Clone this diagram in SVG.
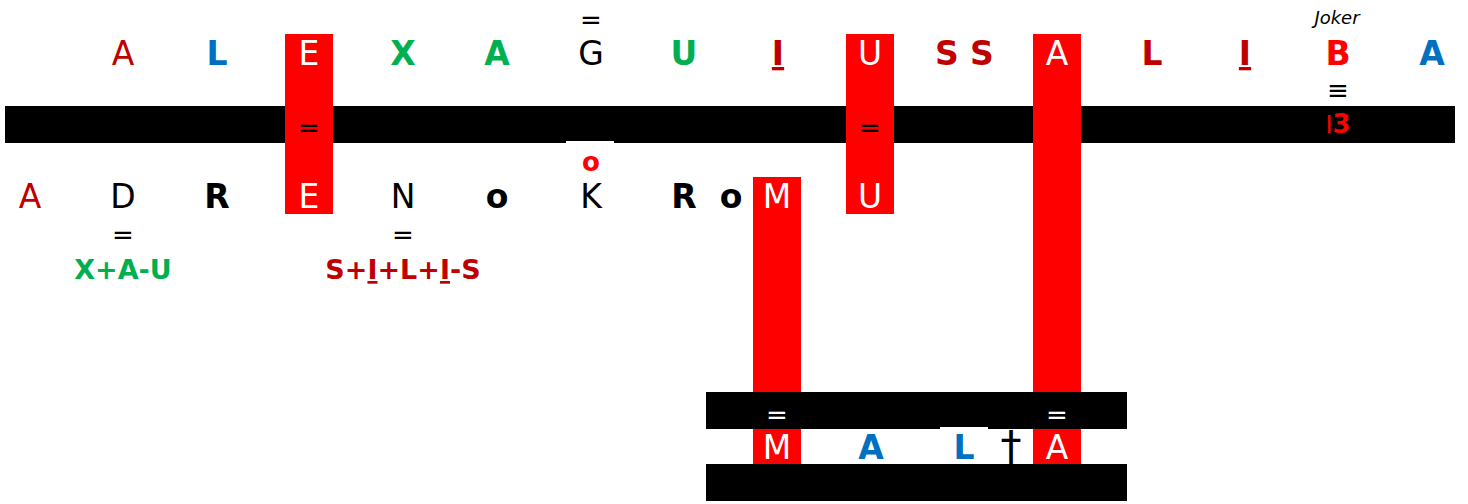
<svg xmlns="http://www.w3.org/2000/svg" width="1468" height="504" viewBox="0 0 1468 504">
<style>
text{font-family:"DejaVu Sans","Verdana",sans-serif;text-anchor:middle}
.L{font-size:33px}
.b{font-weight:bold}
.dr{fill:#C00000}
.bl{fill:#0070C0}
.gr{fill:#00B050}
.rd{fill:#FF0000}
.wh{fill:#FFFFFF}
.bk{fill:#000000}
.eq{font-size:26px}
.u{text-decoration:underline}
.bar{fill:#000000}
.col{fill:#FF0000}
</style>
<rect width="1468" height="504" fill="#FFFFFF"/>
<g id="bars">
<rect class="bar" x="5" y="106" width="1450" height="37"/>
<rect class="bar" x="706" y="392" width="421" height="37"/>
<rect class="bar" x="706" y="464" width="421" height="37"/>
<rect fill="#FFFFFF" x="566" y="141" width="48" height="36"/>
<rect fill="#FFFFFF" x="940" y="427" width="48" height="37"/>
</g>
<g id="connectors">
<rect class="col" x="285" y="34" width="48" height="180"/>
<rect class="col" x="846" y="34" width="48" height="180"/>
<rect class="col" x="1033" y="34" width="48" height="358"/>
<rect class="col" x="753" y="177" width="48" height="215"/>
<rect class="col" x="753" y="429" width="48" height="35"/>
<rect class="col" x="1033" y="429" width="48" height="35"/>
</g>
<g id="top-row">
<text class="L dr" x="123" y="65">A</text>
<text class="L b bl" x="217" y="65">L</text>
<text class="L wh" x="309" y="65">E</text>
<text class="L b gr" x="403" y="65">X</text>
<text class="L b gr" x="497" y="65">A</text>
<text class="L bk" x="591" y="65">G</text>
<text class="L b gr" x="684" y="65">U</text>
<text class="L b dr u" x="778" y="65">I</text>
<text class="L wh" x="870" y="65">U</text>
<text class="L b dr" x="947" y="65">S</text>
<text class="L b dr" x="982" y="65">S</text>
<text class="L wh" x="1057" y="65">A</text>
<text class="L b dr" x="1152" y="65">L</text>
<text class="L b dr u" x="1245" y="65">I</text>
<text class="L b rd" x="1338" y="65">B</text>
<text class="L b bl" x="1432" y="65">A</text>
</g>
<g id="marks">
<text class="eq bk" x="591" y="29">=</text>
<text class="eq bk" x="309" y="137">=</text>
<text class="eq bk" x="870" y="137">=</text>
<text class="eq bk" x="1338" y="99">≡</text>
<text class="rd" x="1338" y="133" style="font-size:24px"><tspan>I</tspan><tspan font-weight="bold" font-size="26px">3</tspan></text>
<text class="b rd" x="591" y="171" style="font-size:26px">o</text>
<text class="eq bk" x="123" y="244">=</text>
<text class="eq bk" x="403" y="244">=</text>
<text class="eq wh" x="777" y="424">=</text>
<text class="eq wh" x="1057" y="424">=</text>
<text x="1337" y="24" style="font-size:18px;font-style:italic" fill="#000000">Joker</text>
</g>
<g id="bottom-row">
<text class="L dr" x="30" y="208">A</text>
<text class="L bk" x="123" y="208">D</text>
<text class="L b bk" x="217" y="208">R</text>
<text class="L wh" x="309" y="208">E</text>
<text class="L bk" x="403" y="208">N</text>
<text class="L b bk" x="497" y="208">o</text>
<text class="L bk" x="591" y="208">K</text>
<text class="L b bk" x="684" y="208">R</text>
<text class="L b bk" x="731" y="208">o</text>
<text class="L wh" x="777" y="208">M</text>
<text class="L wh" x="870" y="208">U</text>
</g>
<g id="formulas">
<text class="b gr" x="123" y="279" style="font-size:27px">X+A-U</text>
<text class="b dr" x="403" y="279" style="font-size:27px">S+<tspan class="u">I</tspan>+L+<tspan class="u">I</tspan>-S</text>
</g>
<g id="malta-row">
<text class="L wh" x="777" y="459">M</text>
<text class="L b bl" x="871" y="459">A</text>
<text class="L b bl" x="964" y="459">L</text>
<text class="bk" x="1011" y="461" style="font-size:42px">†</text>
<text class="L wh" x="1057" y="459">A</text>
</g>
</svg>
